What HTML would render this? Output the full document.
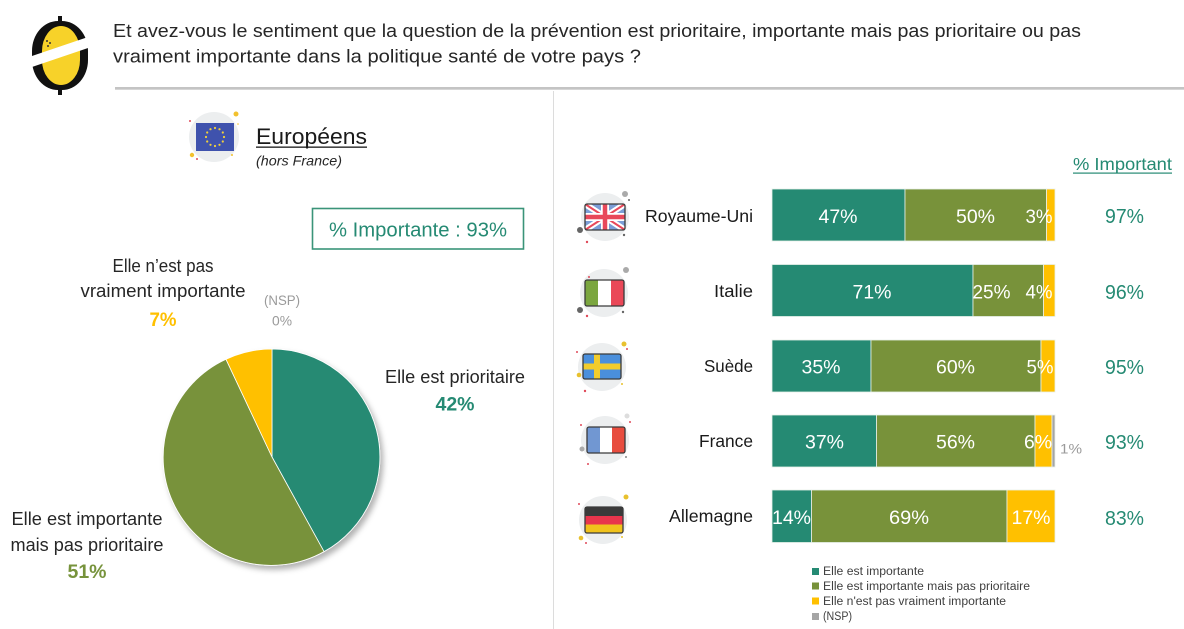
<!DOCTYPE html>
<html><head><meta charset="utf-8"><style>
html,body{margin:0;padding:0;background:#fff;}
svg{display:block;}
text{font-family:"Liberation Sans",Arial,sans-serif;}
</style></head><body>
<svg width="1184" height="629" viewBox="0 0 1184 629" xmlns="http://www.w3.org/2000/svg">
<defs>
<filter id="sh" x="-20%" y="-20%" width="150%" height="150%">
<feDropShadow dx="3" dy="4" stdDeviation="3" flood-color="#000" flood-opacity="0.3"/>
</filter>
<clipPath id="cUK"><rect x="585" y="204" width="40" height="26" rx="2"/></clipPath>
</defs>
<rect width="1184" height="629" fill="#fff"/>

<!-- Logo -->
<rect x="58" y="16" width="4" height="8" fill="#111"/>
<rect x="58" y="87" width="4" height="8" fill="#111"/>
<rect x="32" y="21" width="56" height="69" rx="26" ry="30" fill="#111"/>
<rect x="42" y="26" width="38" height="59" rx="19" ry="25" fill="#f7d229"/>
<polygon points="29,57 91,36 91,47 29,68" fill="#fff"/>
<circle cx="47" cy="41" r="1" fill="#333"/><circle cx="50" cy="43" r="1" fill="#333"/><circle cx="48" cy="46" r="1" fill="#333"/>

<!-- Header -->
<text x="113" y="37" font-size="18" fill="#262626" textLength="968" lengthAdjust="spacingAndGlyphs">Et avez-vous le sentiment que la question de la prévention est prioritaire, importante mais pas prioritaire ou pas</text>
<text x="113" y="62.5" font-size="18" fill="#262626" textLength="528" lengthAdjust="spacingAndGlyphs">vraiment importante dans la politique santé de votre pays ?</text>
<rect x="115" y="87" width="1069" height="2.7" fill="#c4c4c4"/>
<rect x="553" y="91" width="1" height="538" fill="#dcdcdc"/>

<!-- EU icon -->
<circle cx="214" cy="137" r="25" fill="#eceeef"/>
<rect x="196" y="123" width="38" height="28" fill="#3f52ad"/>
<g fill="#f2d03b">
<circle cx="215" cy="128" r="1.1"/><circle cx="219.5" cy="129.2" r="1.1"/><circle cx="222.8" cy="132.5" r="1.1"/><circle cx="224" cy="137" r="1.1"/><circle cx="222.8" cy="141.5" r="1.1"/><circle cx="219.5" cy="144.8" r="1.1"/><circle cx="215" cy="146" r="1.1"/><circle cx="210.5" cy="144.8" r="1.1"/><circle cx="207.2" cy="141.5" r="1.1"/><circle cx="206" cy="137" r="1.1"/><circle cx="207.2" cy="132.5" r="1.1"/><circle cx="210.5" cy="129.2" r="1.1"/>
</g>
<circle cx="236" cy="114" r="2.5" fill="#f2c12e"/><circle cx="190" cy="121" r="1" fill="#e04a5a"/><circle cx="192" cy="155" r="2.2" fill="#f2c12e"/><circle cx="197" cy="159" r="1" fill="#e04a5a"/><circle cx="232" cy="155" r="1" fill="#f2c12e"/><circle cx="238" cy="124" r="0.8" fill="#f2c12e"/>

<text x="256" y="144" font-size="22" fill="#1a1a1a" textLength="111" lengthAdjust="spacingAndGlyphs">Européens</text>
<rect x="256" y="146.5" width="111" height="1.3" fill="#1a1a1a"/>
<text x="256" y="165.5" font-size="14" font-style="italic" fill="#262626" textLength="86" lengthAdjust="spacingAndGlyphs">(hors France)</text>

<!-- % Importante box -->
<rect x="312.5" y="208.5" width="211" height="40.5" fill="none" stroke="#3a9479" stroke-width="1.6"/>
<text x="418" y="236.5" font-size="20" fill="#258a73" text-anchor="middle" textLength="178" lengthAdjust="spacingAndGlyphs">% Importante : 93%</text>

<!-- Pie labels -->
<text x="163" y="272" font-size="18" fill="#262626" text-anchor="middle" textLength="101" lengthAdjust="spacingAndGlyphs">Elle n’est pas</text>
<text x="163" y="297" font-size="18" fill="#262626" text-anchor="middle" textLength="165" lengthAdjust="spacingAndGlyphs">vraiment importante</text>
<text x="163" y="326" font-size="19" font-weight="bold" fill="#ffc000" text-anchor="middle" textLength="27" lengthAdjust="spacingAndGlyphs">7%</text>
<text x="282" y="305" font-size="14" fill="#9a9a9a" text-anchor="middle" textLength="36" lengthAdjust="spacingAndGlyphs">(NSP)</text>
<text x="282" y="325.5" font-size="14" fill="#9a9a9a" text-anchor="middle" textLength="20" lengthAdjust="spacingAndGlyphs">0%</text>
<text x="455" y="383" font-size="18" fill="#262626" text-anchor="middle" textLength="140" lengthAdjust="spacingAndGlyphs">Elle est prioritaire</text>
<text x="455" y="410.5" font-size="19" font-weight="bold" fill="#258a73" text-anchor="middle" textLength="39" lengthAdjust="spacingAndGlyphs">42%</text>
<text x="87" y="525" font-size="18" fill="#262626" text-anchor="middle" textLength="151" lengthAdjust="spacingAndGlyphs">Elle est importante</text>
<text x="87" y="551" font-size="18" fill="#262626" text-anchor="middle" textLength="153" lengthAdjust="spacingAndGlyphs">mais pas prioritaire</text>
<text x="87" y="578" font-size="19" font-weight="bold" fill="#77933c" text-anchor="middle" textLength="39" lengthAdjust="spacingAndGlyphs">51%</text>

<!-- Pie -->
<g filter="url(#sh)" stroke="#fff" stroke-width="0.8">
<path d="M272,457 L272,349 A108,108 0 0,1 324.0,551.6 Z" fill="#258a73"/>
<path d="M272,457 L324.0,551.6 A108,108 0 1,1 226.0,359.3 Z" fill="#78923a"/>
<path d="M272,457 L226.0,359.3 A108,108 0 0,1 272,349 Z" fill="#ffc000"/>
</g>

<!-- Right header -->
<text x="1073" y="170" font-size="17.5" fill="#258a73" textLength="99" lengthAdjust="spacingAndGlyphs">% Important</text>
<rect x="1073" y="172.5" width="99" height="1.2" fill="#258a73"/>

<!-- Flags icons -->
<!-- UK -->
<circle cx="605" cy="217" r="24" fill="#eceeef"/>
<g clip-path="url(#cUK)">
<rect x="585" y="204" width="40" height="26" fill="#7b9dd6"/>
<path d="M585,204 L625,230 M625,204 L585,230" stroke="#fff" stroke-width="6"/>
<path d="M585,204 L625,230 M625,204 L585,230" stroke="#e8485a" stroke-width="2"/>
<path d="M605,204 V230 M585,217 H625" stroke="#fff" stroke-width="8"/>
<path d="M605,204 V230 M585,217 H625" stroke="#e8485a" stroke-width="4.5"/>
</g>
<rect x="585" y="204" width="40" height="26" rx="2" fill="none" stroke="#3a3a3a" stroke-width="1.3"/>
<circle cx="580" cy="230" r="3" fill="#666"/><circle cx="625" cy="194" r="3" fill="#aaa"/><circle cx="629" cy="200" r="1" fill="#666"/><circle cx="587" cy="242" r="1.2" fill="#e04a5a"/><circle cx="624" cy="235" r="1.2" fill="#666"/>

<!-- Italy -->
<circle cx="604" cy="293" r="24" fill="#eceeef"/>
<rect x="585" y="280" width="13" height="26" fill="#7ba63f"/>
<rect x="598" y="280" width="13" height="26" fill="#fff"/>
<rect x="611" y="280" width="13" height="26" fill="#ea4858"/>
<rect x="585" y="280" width="39" height="26" rx="2" fill="none" stroke="#3a3a3a" stroke-width="1.3"/>
<circle cx="580" cy="310" r="3" fill="#666"/><circle cx="626" cy="270" r="3" fill="#aaa"/><circle cx="587" cy="316" r="1.2" fill="#e04a5a"/><circle cx="589" cy="277" r="1" fill="#e04a5a"/><circle cx="623" cy="312" r="1.2" fill="#666"/>

<!-- Sweden -->
<circle cx="602" cy="367" r="24" fill="#eceeef"/>
<rect x="583" y="354" width="38" height="25" fill="#4a8fdc"/>
<rect x="594" y="354" width="6" height="25" fill="#f2cc2c"/>
<rect x="583" y="363.5" width="38" height="6" fill="#f2cc2c"/>
<rect x="583" y="354" width="38" height="25" rx="2" fill="none" stroke="#3a3a3a" stroke-width="1.3"/>
<circle cx="624" cy="344" r="2.5" fill="#e8c12e"/><circle cx="579" cy="375" r="2.3" fill="#e8c12e"/><circle cx="577" cy="352" r="1" fill="#e04a5a"/><circle cx="627" cy="349" r="1" fill="#e04a5a"/><circle cx="585" cy="391" r="1.2" fill="#e04a5a"/><circle cx="622" cy="384" r="1" fill="#e8c12e"/>

<!-- France -->
<circle cx="605" cy="440" r="24" fill="#eceeef"/>
<rect x="587" y="427" width="13" height="26" fill="#7197d2"/>
<rect x="600" y="427" width="12" height="26" fill="#fff"/>
<rect x="612" y="427" width="13" height="26" fill="#e84d3f"/>
<rect x="587" y="427" width="38" height="26" rx="2" fill="none" stroke="#3a3a3a" stroke-width="1.3"/>
<circle cx="582" cy="449" r="2.5" fill="#aaa"/><circle cx="627" cy="416" r="2.5" fill="#ddd"/><circle cx="630" cy="422" r="1" fill="#e04a5a"/><circle cx="581" cy="425" r="1" fill="#e04a5a"/><circle cx="588" cy="464" r="1" fill="#e04a5a"/><circle cx="626" cy="457" r="1" fill="#888"/>

<!-- Germany -->
<circle cx="603" cy="520" r="24" fill="#eceeef"/>
<rect x="585" y="507" width="38" height="9" fill="#3a3a3a"/>
<rect x="585" y="516" width="38" height="8.5" fill="#e8354c"/>
<rect x="585" y="524.5" width="38" height="8.5" fill="#f0c21c"/>
<rect x="585" y="507" width="38" height="26" rx="2" fill="none" stroke="#3a3a3a" stroke-width="1.3"/>
<circle cx="626" cy="497" r="2.5" fill="#e8c12e"/><circle cx="581" cy="538" r="2.3" fill="#e8c12e"/><circle cx="579" cy="504" r="1" fill="#e04a5a"/><circle cx="586" cy="543" r="1" fill="#e04a5a"/><circle cx="622" cy="537" r="1" fill="#e8c12e"/>

<!-- Country labels -->
<g font-size="17.5" fill="#1a1a1a" text-anchor="end">
<text x="753" y="222" textLength="108" lengthAdjust="spacingAndGlyphs">Royaume-Uni</text>
<text x="753" y="297" textLength="39" lengthAdjust="spacingAndGlyphs">Italie</text>
<text x="753" y="372" textLength="49" lengthAdjust="spacingAndGlyphs">Suède</text>
<text x="753" y="447" textLength="54" lengthAdjust="spacingAndGlyphs">France</text>
<text x="753" y="522" textLength="84" lengthAdjust="spacingAndGlyphs">Allemagne</text>
</g>

<!-- Bars -->
<g stroke="#e8f0ea" stroke-width="0.8">
<rect x="772" y="189" width="133" height="52" fill="#258a73"/>
<rect x="905" y="189" width="141.5" height="52" fill="#78923a"/>
<rect x="1046.5" y="189" width="8.5" height="52" fill="#ffc000"/>

<rect x="772" y="264.5" width="201" height="52" fill="#258a73"/>
<rect x="973" y="264.5" width="70.5" height="52" fill="#78923a"/>
<rect x="1043.5" y="264.5" width="11.5" height="52" fill="#ffc000"/>

<rect x="772" y="340" width="99" height="52" fill="#258a73"/>
<rect x="871" y="340" width="170" height="52" fill="#78923a"/>
<rect x="1041" y="340" width="14" height="52" fill="#ffc000"/>

<rect x="772" y="415" width="104.5" height="52" fill="#258a73"/>
<rect x="876.5" y="415" width="158.5" height="52" fill="#78923a"/>
<rect x="1035" y="415" width="17" height="52" fill="#ffc000"/>
<rect x="1052" y="415" width="3" height="52" fill="#a5a5a5"/>

<rect x="772" y="490" width="39.5" height="52.5" fill="#258a73"/>
<rect x="811.5" y="490" width="195.5" height="52.5" fill="#78923a"/>
<rect x="1007" y="490" width="48" height="52.5" fill="#ffc000"/>
</g>

<!-- Bar labels -->
<g font-size="19" fill="#fff" text-anchor="middle">
<text x="838" y="223" textLength="39" lengthAdjust="spacingAndGlyphs">47%</text>
<text x="975.5" y="223" textLength="39" lengthAdjust="spacingAndGlyphs">50%</text>
<text x="1039" y="223" textLength="27" lengthAdjust="spacingAndGlyphs">3%</text>

<text x="872" y="298.5" textLength="39" lengthAdjust="spacingAndGlyphs">71%</text>
<text x="991.5" y="298.5" textLength="38" lengthAdjust="spacingAndGlyphs">25%</text>
<text x="1039" y="298.5" textLength="27" lengthAdjust="spacingAndGlyphs">4%</text>

<text x="821" y="373.5" textLength="39" lengthAdjust="spacingAndGlyphs">35%</text>
<text x="955.5" y="373.5" textLength="39" lengthAdjust="spacingAndGlyphs">60%</text>
<text x="1040" y="373.5" textLength="27" lengthAdjust="spacingAndGlyphs">5%</text>

<text x="824.5" y="448.5" textLength="39" lengthAdjust="spacingAndGlyphs">37%</text>
<text x="955.5" y="448.5" textLength="39" lengthAdjust="spacingAndGlyphs">56%</text>
<text x="1038" y="448.5" textLength="28" lengthAdjust="spacingAndGlyphs">6%</text>

<text x="791.5" y="524" textLength="39" lengthAdjust="spacingAndGlyphs">14%</text>
<text x="909" y="524" textLength="40" lengthAdjust="spacingAndGlyphs">69%</text>
<text x="1031" y="524" textLength="39" lengthAdjust="spacingAndGlyphs">17%</text>
</g>
<text x="1060" y="453.5" font-size="14" fill="#9a9a9a" textLength="22" lengthAdjust="spacingAndGlyphs">1%</text>

<!-- Right percentages -->
<g font-size="20" fill="#258a73" text-anchor="middle">
<text x="1124.5" y="223" textLength="39" lengthAdjust="spacingAndGlyphs">97%</text>
<text x="1124.5" y="299" textLength="39" lengthAdjust="spacingAndGlyphs">96%</text>
<text x="1124.5" y="374" textLength="39" lengthAdjust="spacingAndGlyphs">95%</text>
<text x="1124.5" y="449" textLength="39" lengthAdjust="spacingAndGlyphs">93%</text>
<text x="1124.5" y="525" textLength="39" lengthAdjust="spacingAndGlyphs">83%</text>
</g>

<!-- Legend -->
<rect x="812" y="568" width="7" height="7" fill="#258a73"/>
<rect x="812" y="582.5" width="7" height="7" fill="#78923a"/>
<rect x="812" y="597.5" width="7" height="7" fill="#ffc000"/>
<rect x="812" y="613" width="7" height="7" fill="#a5a5a5"/>
<g font-size="11.5" fill="#404040">
<text x="823" y="575" textLength="101" lengthAdjust="spacingAndGlyphs">Elle est importante</text>
<text x="823" y="590" textLength="207" lengthAdjust="spacingAndGlyphs">Elle est importante mais pas prioritaire</text>
<text x="823" y="605" textLength="183" lengthAdjust="spacingAndGlyphs">Elle n'est pas vraiment importante</text>
<text x="823" y="620" textLength="29" lengthAdjust="spacingAndGlyphs">(NSP)</text>
</g>
</svg>
</body></html>
